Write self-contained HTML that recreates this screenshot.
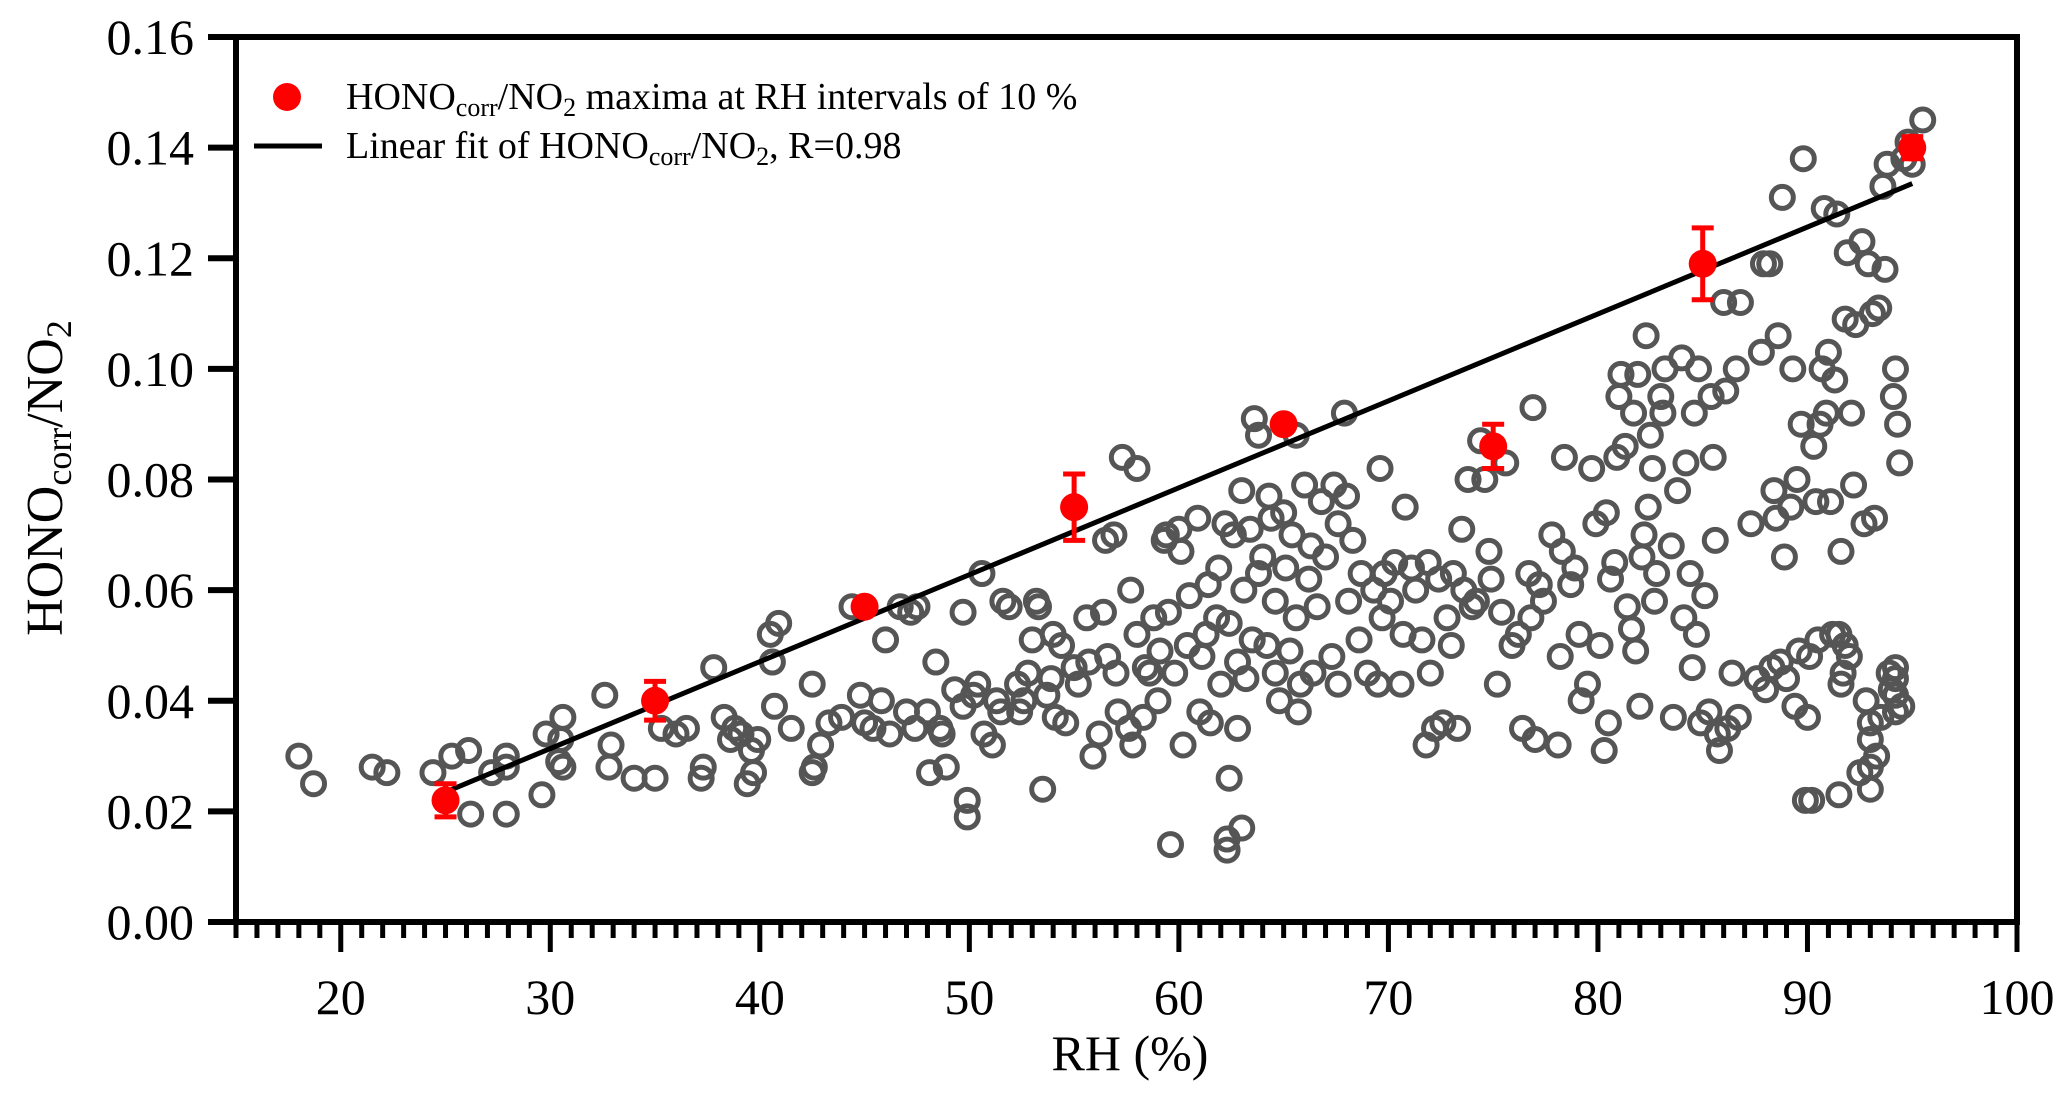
<!DOCTYPE html>
<html><head><meta charset="utf-8"><style>
html,body{margin:0;padding:0;background:#fff;}
svg{display:block;font-family:"Liberation Serif",serif;}
</style></head><body>
<svg id="chart" width="2067" height="1093" viewBox="0 0 2067 1093" xmlns="http://www.w3.org/2000/svg"></svg>
<script>
const xTicks = [20,30,40,50,60,70,80,90,100];
const yTicks = [0.00,0.02,0.04,0.06,0.08,0.10,0.12,0.14,0.16];
const maxRH = [25,35,45,55,65,75,85,95];
const maxVal = [0.022,0.040,0.057,0.075,0.090,0.086,0.119,0.140];
const maxErr = [0.003,0.0035,0.001,0.006,0.001,0.004,0.0065,0.002];
const fitX = [25,95];
const fitY = [0.0235,0.1335];
const scatterRH = [18,18.7,21.5,22.2,24.4,25.3,26.1,26.2,27.2,27.9,27.9,27.9,29.6,29.8,30.4,30.5,30.6,30.6,32.6,32.9,32.8,34,35,35.3,36,36.5,37.2,37.3,37.8,38.3,38.6,38.8,39.1,39.4,39.7,39.6,39.9,40.5,40.6,40.9,40.7,41.5,42.5,42.5,42.6,42.9,43.3,43.9,44.4,44.8,45,45.4,45.8,46,46.2,46.7,47,47.2,47.5,47.4,48,48.1,48.4,48.6,48.7,48.9,49.3,49.7,49.7,49.9,49.9,50.2,50.4,50.6,50.7,51.1,51.3,51.5,51.6,51.9,52.3,52.4,52.6,52.8,53,53.2,53.3,53.5,53.7,53.9,54,54.1,54.4,54.6,55,55.2,55.6,55.7,55.9,56.2,56.4,56.5,56.6,56.9,57,57.1,57.3,57.6,57.7,57.8,58,58,58.3,58.4,58.6,58.8,59,59.1,59.3,59.4,59.5,59.6,59.8,60,60.1,60.2,60.4,60.5,60.9,61,61.1,61.3,61.4,61.5,61.8,61.9,62,62.2,62.3,62.3,62.4,62.4,62.6,62.8,62.8,63,63,63.1,63.2,63.4,63.5,63.6,63.8,63.8,64,64.2,64.3,64.4,64.6,64.6,64.8,65,65.1,65.3,65.4,65.6,65.6,65.7,65.8,66,66.2,66.3,66.4,66.6,66.8,67,67.3,67.4,67.6,67.6,67.9,68,68.1,68.3,68.6,68.7,69,69.3,69.5,69.6,69.7,69.8,70.1,70.3,70.6,70.7,70.8,71.1,71.3,71.6,71.8,71.9,72,72.2,72.4,72.6,72.8,73,73.1,73.3,73.5,73.6,73.8,74,74.2,74.4,74.6,74.8,74.9,75.2,75.4,75.6,75.9,76.2,76.4,76.7,76.8,76.9,77,77.2,77.4,77.8,78.1,78.2,78.3,78.4,78.7,78.9,79.1,79.2,79.5,79.7,79.9,80.1,80.3,80.4,80.5,80.6,80.8,80.9,81,81.1,81.3,81.4,81.6,81.7,81.8,81.9,82,82.1,82.2,82.3,82.4,82.5,82.6,82.7,82.8,83,83.1,83.2,83.5,83.6,83.8,84,84.1,84.2,84.4,84.5,84.6,84.7,84.8,84.9,85.1,85.3,85.4,85.5,85.6,85.7,85.8,86,86.1,86.2,86.4,86.6,86.7,86.8,87.3,87.6,87.8,87.9,88,88.2,88.3,88.4,88.5,88.6,88.7,88.8,88.9,89,89.2,89.3,89.4,89.5,89.6,89.7,89.8,89.9,90,90.1,90.2,90.3,90.4,90.5,90.6,90.7,90.8,90.9,91,91.1,91.2,91.3,91.4,91.5,91.6,91.7,91.8,91.9,92,92.1,92.2,92.3,92.5,92.6,92.7,92.8,92.9,93,93.1,93.2,93.3,93.4,93.5,93.6,93.7,93.8,93.9,94,94.1,94.2,94.3,94.4,94.5,94.6,94.8,95,95.5,93,93,93,94.2,94.2,94.2,94.2,91.6,91.8,91.5];
const scatterVal = [0.030,0.025,0.028,0.027,0.027,0.030,0.031,0.0195,0.027,0.030,0.0195,0.028,0.023,0.034,0.029,0.033,0.037,0.028,0.041,0.032,0.028,0.026,0.026,0.035,0.034,0.035,0.026,0.028,0.046,0.037,0.033,0.035,0.034,0.025,0.027,0.031,0.033,0.052,0.047,0.054,0.039,0.035,0.043,0.027,0.028,0.032,0.036,0.037,0.057,0.041,0.036,0.035,0.040,0.051,0.034,0.057,0.038,0.056,0.057,0.035,0.038,0.027,0.047,0.035,0.034,0.028,0.042,0.039,0.056,0.022,0.019,0.041,0.043,0.063,0.034,0.032,0.040,0.038,0.058,0.057,0.043,0.038,0.040,0.045,0.051,0.058,0.057,0.024,0.041,0.044,0.052,0.037,0.050,0.036,0.046,0.043,0.055,0.047,0.030,0.034,0.056,0.069,0.048,0.070,0.045,0.038,0.084,0.035,0.060,0.032,0.082,0.052,0.037,0.046,0.045,0.055,0.040,0.049,0.069,0.070,0.056,0.014,0.045,0.071,0.067,0.032,0.050,0.059,0.073,0.038,0.048,0.052,0.061,0.036,0.055,0.064,0.043,0.072,0.015,0.013,0.026,0.054,0.070,0.047,0.035,0.017,0.078,0.060,0.044,0.071,0.051,0.091,0.088,0.063,0.066,0.050,0.077,0.073,0.045,0.058,0.040,0.074,0.064,0.049,0.070,0.088,0.055,0.038,0.043,0.079,0.062,0.068,0.045,0.057,0.076,0.066,0.048,0.079,0.072,0.043,0.092,0.077,0.058,0.069,0.051,0.063,0.045,0.060,0.043,0.082,0.055,0.063,0.058,0.065,0.043,0.052,0.075,0.064,0.060,0.051,0.032,0.065,0.045,0.035,0.062,0.036,0.055,0.050,0.063,0.035,0.071,0.060,0.080,0.057,0.058,0.087,0.080,0.067,0.062,0.043,0.056,0.083,0.050,0.052,0.035,0.063,0.055,0.093,0.033,0.061,0.058,0.070,0.032,0.048,0.067,0.084,0.061,0.064,0.052,0.040,0.043,0.082,0.072,0.050,0.031,0.074,0.036,0.062,0.065,0.084,0.095,0.099,0.086,0.057,0.053,0.092,0.049,0.099,0.039,0.066,0.070,0.106,0.075,0.088,0.082,0.058,0.063,0.095,0.092,0.100,0.068,0.037,0.078,0.102,0.055,0.083,0.063,0.046,0.092,0.052,0.100,0.036,0.059,0.038,0.095,0.084,0.069,0.034,0.031,0.112,0.096,0.035,0.045,0.100,0.037,0.112,0.072,0.044,0.103,0.119,0.042,0.119,0.046,0.078,0.073,0.106,0.047,0.131,0.066,0.044,0.075,0.100,0.039,0.080,0.049,0.090,0.138,0.022,0.037,0.048,0.022,0.086,0.076,0.051,0.090,0.100,0.129,0.092,0.103,0.076,0.052,0.098,0.128,0.023,0.067,0.045,0.109,0.121,0.048,0.092,0.079,0.108,0.027,0.123,0.072,0.040,0.119,0.036,0.110,0.073,0.030,0.111,0.037,0.133,0.118,0.137,0.045,0.042,0.095,0.100,0.090,0.083,0.039,0.138,0.141,0.137,0.145,0.024,0.028,0.033,0.038,0.041,0.044,0.046,0.043,0.050,0.052];

const NS='http://www.w3.org/2000/svg';
const svg=document.getElementById('chart');
const L=236,R=2017,T=37,B=922;
const xMin=15,xMax=100,yMin=0,yMax=0.16;
function sx(v){return L+(v-xMin)/(xMax-xMin)*(R-L);}
function sy(v){return B-(v-yMin)/(yMax-yMin)*(B-T);}
function mk(tag,attrs,parent){const e=document.createElementNS(NS,tag);for(const k in attrs)e.setAttribute(k,attrs[k]);(parent||svg).appendChild(e);return e;}

const gS=mk('g',{});


for(let i=0;i<scatterRH.length;i++){
  const c=mk('circle',{cx:sx(scatterRH[i]),cy:sy(scatterVal[i]),r:11,fill:'none',stroke:'#555','stroke-width':5},gS);
  
  
}
const fl=mk('line',{x1:sx(fitX[0]),y1:sy(fitY[0]),x2:sx(fitX[1]),y2:sy(fitY[1]),stroke:'#000','stroke-width':5});


const gM=mk('g',{});


for(let i=0;i<maxRH.length;i++){
  const x=sx(maxRH[i]),y1=sy(maxVal[i]-maxErr[i]),y2=sy(maxVal[i]+maxErr[i]);
  const eb=mk('path',{d:`M${x},${y1}V${y2}M${x-11},${y1}H${x+11}M${x-11},${y2}H${x+11}`,stroke:'#f00','stroke-width':5,fill:'none'},gM);
  
  
  const c=mk('circle',{cx:x,cy:sy(maxVal[i]),r:14,fill:'#f00'},gM);
  
  
}
const fr=mk('rect',{x:L,y:T,width:R-L,height:B-T,fill:'none',stroke:'#000','stroke-width':6});


const gX=mk('g',{});


for(let v=xMin;v<=xMax;v++){
  const major=v%10===0;
  mk('line',{x1:sx(v),y1:B,x2:sx(v),y2:B+(major?30:16),stroke:'#000','stroke-width':5},gX);
}
xTicks.forEach(v=>{
  const t=mk('text',{x:sx(v),y:1014,'font-size':50,'text-anchor':'middle'},gX);
  t.textContent=v;
  
  
});
const gY=mk('g',{});


yTicks.forEach(v=>{
  mk('line',{x1:L-28,y1:sy(v),x2:L,y2:sy(v),stroke:'#000','stroke-width':6},gY);
  const t=mk('text',{x:L-42,y:sy(v)+17,'font-size':50,'text-anchor':'end'},gY);
  t.textContent=v.toFixed(2);
  
  
});
</script>
<svg style="position:absolute;left:0;top:0" width="2067" height="1093">
  <text x="1130" y="1070" font-family="Liberation Serif,serif" font-size="50" text-anchor="middle">RH (%)</text>
  <text transform="translate(62,478) rotate(-90)" font-family="Liberation Serif,serif" font-size="52" text-anchor="middle">HONO<tspan font-size="36" dy="9">corr</tspan><tspan dy="-9">/NO</tspan><tspan font-size="36" dy="9">2</tspan></text>
  <g font-family="Liberation Serif,serif" font-size="38">
    <circle cx="287" cy="97" r="14" fill="#f00"/>
    <text x="346" y="109">HONO<tspan font-size="26" dy="7">corr</tspan><tspan dy="-7">/NO</tspan><tspan font-size="26" dy="7">2</tspan><tspan dy="-7"> maxima at RH intervals of 10 %</tspan></text>
    <line x1="254" y1="146" x2="322" y2="146" stroke="#000" stroke-width="5"/>
    <text x="346" y="158">Linear fit of HONO<tspan font-size="26" dy="7">corr</tspan><tspan dy="-7">/NO</tspan><tspan font-size="26" dy="7">2</tspan><tspan dy="-7">, R=0.98</tspan></text>
  </g>
</svg>
</body></html>
